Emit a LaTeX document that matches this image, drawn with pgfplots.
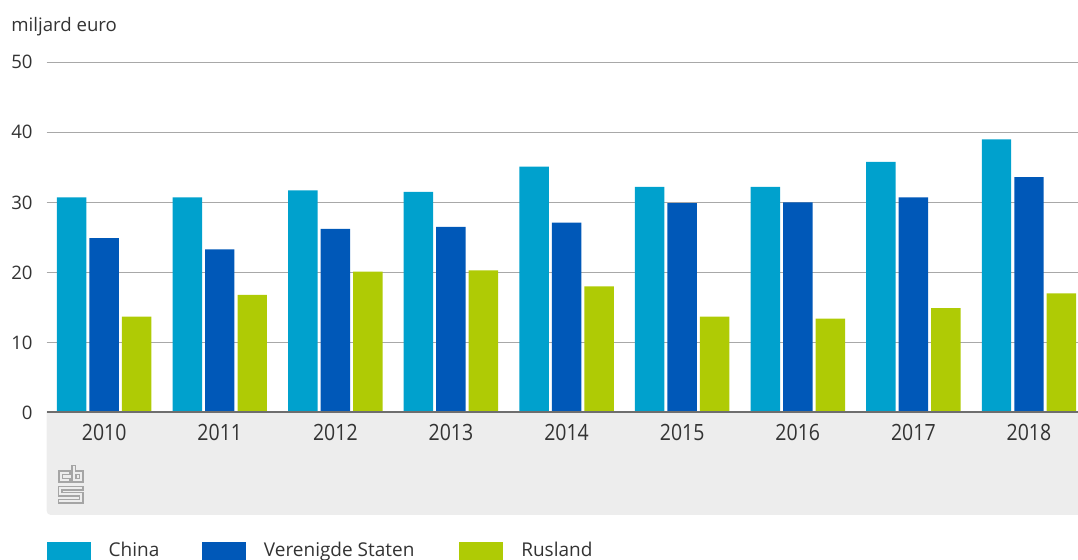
\documentclass[border=0pt]{standalone}
\usepackage{fontspec}
\setmainfont{Open Sans}
\newfontfamily\yearfont[FakeStretch=0.87]{Open Sans}
\usepackage{pgfplots}
\usepackage{pgfplotstable}
\pgfplotsset{compat=1.18}
\definecolor{china}{HTML}{00A1CD}
\definecolor{vs}{HTML}{0058B8}
\definecolor{rus}{HTML}{AFCB05}
\definecolor{band}{HTML}{EDEDED}
\definecolor{txt}{HTML}{333333}
\definecolor{gridc}{HTML}{A8A8A8}
\definecolor{axisline}{HTML}{6E6E6E}
\definecolor{logo}{HTML}{A5A5A5}

\pgfplotstableread{
x china vs rus
0 30.7 24.9 13.7
1 30.7 23.3 16.8
2 31.7 26.2 20.1
3 31.5 26.5 20.3
4 35.1 27.1 18.0
5 32.2 29.9 13.7
6 32.2 30.0 13.4
7 35.8 30.7 14.9
8 39.0 33.6 17.0
}\data

\pgfplotsset{sqlegend/.style={legend image code/.code={\fill[##1] (0pt,-3.5pt) rectangle (22pt,7.15pt);}}}

\begin{document}
\begin{tikzpicture}
\useasboundingbox (0,0) rectangle (539pt,280pt);
\begin{scope}[x=0.5pt,y=-0.5pt,yshift=280pt]
  \fill[band] (46.7,412.5) -- (1082,412.5) -- (1082,515) -- (50.7,515) to[out=180,in=-90] (46.7,511) -- cycle;
  \begin{scope}[draw=logo, line width=0.65pt]
    \draw (70,471)--(59,471)--(59,482)--(70,482)--(70,478.5)--(62.5,478.5)--(62.5,474.5)--(70,474.5)--cycle;
    \draw (72,465.5)--(72,482)--(83,482)--(83,471)--(75.5,471)--(75.5,465.5)--cycle;
    \draw (76,474.5) rectangle (79.5,478.5);
    \draw (83,486.5)--(58.5,486.5)--(58.5,496)--(79.5,496)--(79.5,499.5)--(58.5,499.5)--(58.5,503)--(83,503)--(83,492.5)--(62,492.5)--(62,490)--(83,490)--cycle;
  \end{scope}
  \node[anchor=base west, inner sep=0pt, text=txt, font=\fontsize{9.3}{11}\selectfont] at (11,31.7) {miljard euro};
\end{scope}
\begin{axis}[
  at={(23.35pt,73.75pt)}, anchor=south west,
  scale only axis, width=515.65pt, height=175.1pt,
  xmin=-0.497, xmax=8.424, ymin=0, ymax=50,
  ytick={0,10,...,50}, xtick={0,...,8},
  xticklabels={2010,2011,2012,2013,2014,2015,2016,2017,2018},
  ymajorgrids, grid style={draw=gridc, line width=0.5pt},
  major tick length=0pt,
  axis line style={draw=none},
  /pgf/number format/assume math mode=true,
  yticklabel style={anchor=east, inner sep=0pt, xshift=-6.85pt, text=txt, font=\fontsize{9.3}{11}\selectfont},
  xticklabel style={anchor=base, inner sep=0pt, yshift=-14.25pt, text=txt, font=\yearfont\fontsize{11.2}{13}\selectfont},
  legend columns=3,
  legend style={at={(0,-0.3689)}, anchor=north west, draw=none, fill=none,
    inner sep=0pt, outer sep=0pt,
    nodes={inner sep=0pt, text depth=0pt, text=txt, font=\fontsize{9.5}{11}\selectfont},
    cells={anchor=base west}, column sep=0pt,
    /tikz/every odd column/.append style={column sep=9pt}},
]
\addplot[ybar, sqlegend, bar width=0.255, bar shift=-0.281, fill=china, draw=none] table[x=x,y=china]{\data};
\addlegendentry{\makebox[46.65pt][l]{China}}
\addplot[ybar, sqlegend, bar width=0.255, bar shift=0, fill=vs, draw=none] table[x=x,y=vs]{\data};
\addlegendentry{\makebox[97.65pt][l]{Verenigde Staten}}
\addplot[ybar, sqlegend, bar width=0.255, bar shift=0.281, fill=rus, draw=none] table[x=x,y=rus]{\data};
\addlegendentry{Rusland}
\draw[axisline, line width=2pt] ([yshift=-0.4pt]rel axis cs:0,0) -- ([yshift=-0.4pt]rel axis cs:1,0);
\end{axis}
\end{tikzpicture}
\end{document}
